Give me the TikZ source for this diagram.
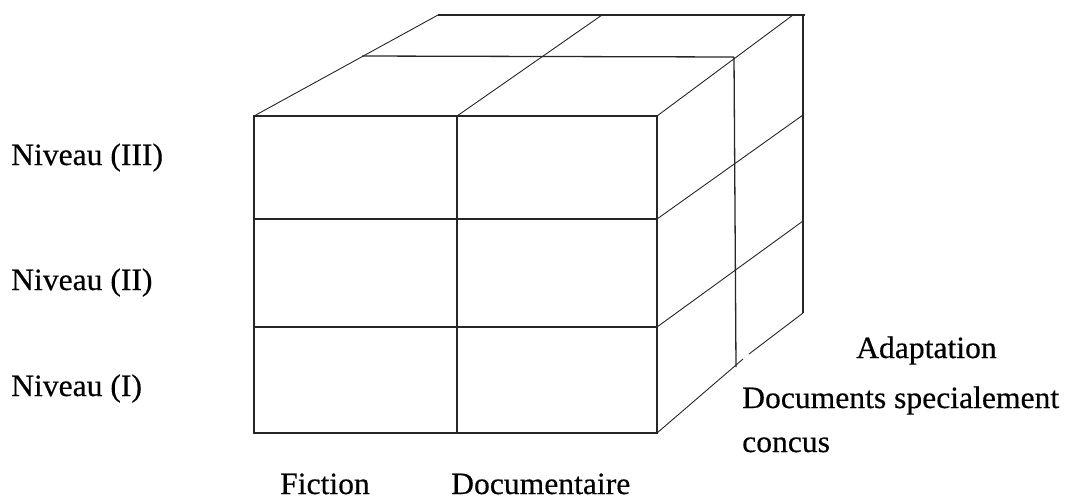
\documentclass[tikz,border=0pt]{standalone}
\usepackage{fontspec}
\setmainfont{Liberation Serif}[FakeStretch=1.02,FakeBold=0.4]
\begin{document}
\begin{tikzpicture}[x=1pt,y=-1pt,
  edge/.style={line width=1.3pt,draw=black!85},
  depth/.style={line width=0.9pt,draw=black!85},
  lbl/.style={anchor=base west,inner sep=0pt,font=\fontsize{31}{35}\selectfont}]
\useasboundingbox (0,0) rectangle (1067,499);

% front face corners and grid points
\coordinate (f00) at (254,116); \coordinate (f10) at (457,116); \coordinate (f20) at (657,116);
\coordinate (f01) at (254,219); \coordinate (f21) at (657,219);
\coordinate (f02) at (254,327); \coordinate (f22) at (657,327);
\coordinate (f03) at (254,433); \coordinate (f13) at (457,433); \coordinate (f23) at (657,433);

% top face
\coordinate (b0) at (438,15);  \coordinate (b1) at (602,15);  \coordinate (b2) at (793,15);
\coordinate (bend) at (805,15);
\coordinate (m0) at (362,56);  \coordinate (m2) at (734,57);

% right face
\coordinate (r0) at (803,15);  \coordinate (r1) at (803,115);
\coordinate (r2) at (803,221); \coordinate (r3) at (803,313);
\coordinate (mv) at (736,367);
\coordinate (g1) at (743,359); \coordinate (g2) at (749,354);

% front face grid
\draw[edge] (f00) rectangle (f23);
\draw[edge] (f10) -- (f13);
\draw[edge] (f01) -- (f21);
\draw[edge] (f02) -- (f22);

% top face
\draw[edge] (b0) -- (bend);
\draw[edge] (m0) -- (m2);
\draw[depth] (f00) -- (b0);
\draw[depth] (f10) -- (b1);
\draw[depth] (f20) -- (b2);

% right face
\draw[edge] (r0) -- (r3);
\draw[edge] (m2) -- (mv);
\draw[depth] (f21) -- (r1);
\draw[depth] (f22) -- (r2);
\draw[depth] (f23) -- (g1);
\draw[depth] (g2) -- (r3);

% labels
\node[lbl] (n3) at (11,165) {Niveau (III)};
\node[lbl] (n2) at (11,290) {Niveau (II)};
\node[lbl] (n1) at (11,396) {Niveau (I)};
\node[lbl] (fic) at (280,494) {Fiction};
\node[lbl] (doc) at (451,494) {Documentaire};
\node[lbl] (ada) at (856,358) {Adaptation};
\node[lbl] (dsp) at (742,408) {Documents specialement};
\node[lbl] (con) at (742,452) {concus};
\end{tikzpicture}
\end{document}
